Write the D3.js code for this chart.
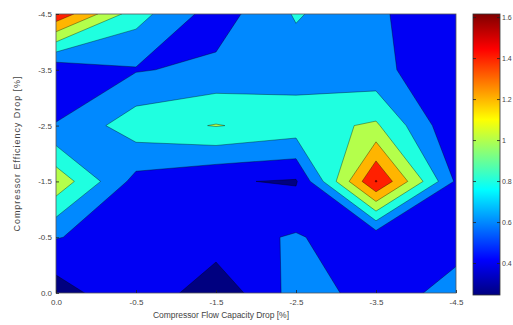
<!DOCTYPE html>
<html>
<head>
<meta charset="utf-8">
<script src="https://cdn.jsdelivr.net/npm/d3@7"></script>
<style>
  html, body { margin: 0; padding: 0; background: #fff; overflow: hidden; }
  text { font-family: "Liberation Sans", Arial, sans-serif; fill: #333; }
</style>
</head>
<body>
<figure id="contour" style="margin:0"></figure>
<script>
// tick labels (grid columns / rows are evenly spaced)
const xLabels = ['0.0', '-0.5', '-1.5', '-2.5', '-3.5', '-4.5'];
const yLabels = ['0.0', '-0.5', '-1.5', '-2.5', '-3.5', '-4.5']; // bottom -> top

// grid values, one row per y label (bottom -> top), one value per x label
const row00 = [0.30, 0.58, 0.25, 0.68, 0.535, 0.645];
const row05 = [0.61, 0.50, 0.52, 0.62, 0.46, 0.55];
const row15 = [1.14, 0.53, 0.42, 0.38, 1.615, 0.57];
const row25 = [0.61, 0.915, 1.01, 0.92, 1.03, 0.42];
const row35 = [0.45, 0.585, 0.647, 0.70, 0.66, 0.43];
const row45 = [1.55, 0.88, 0.50, 0.82, 0.64, 0.41];
const zRows = [row00, row05, row15, row25, row35, row45];

const levels = [0.4, 0.6, 0.8, 1.0, 1.2, 1.4, 1.6];
const colorLimits = [0.244, 1.615];
const colorbarTicks = [0.4, 0.6, 0.8, 1.0, 1.2, 1.4, 1.6];

const xTitle = 'Compressor Flow Capacity Drop [%]';
const yTitle = 'Compressor Efficiency Drop [%]';

const W = 513, H = 325;
const plot = {left: 56, right: 456, top: 14, bottom: 293};
const bar = {left: 473, right: 500, top: 14, bottom: 295};

function jet(t) {
  const c = v => Math.max(0, Math.min(1, v));
  const r = c(1.5 - Math.abs(4 * t - 3));
  const g = c(1.5 - Math.abs(4 * t - 2));
  const b = c(1.5 - Math.abs(4 * t - 1));
  return d3.rgb(r * 255, g * 255, b * 255).formatHex();
}

const color = d3.scaleSequential(jet).domain(colorLimits);

const svg = d3.select('figure#contour')
  .append('svg')
  .attr('width', W)
  .attr('height', H);

const nx = xLabels.length, ny = yLabels.length;
const x = d3.scaleLinear().domain([0, nx - 1]).range([plot.left, plot.right]);
const y = d3.scaleLinear().domain([0, ny - 1]).range([plot.bottom, plot.top]);

// contour fills
svg.append('defs').append('clipPath')
  .attr('id', 'plot-clip')
  .append('rect')
  .attr('x', plot.left)
  .attr('y', plot.top)
  .attr('width', plot.right - plot.left)
  .attr('height', plot.bottom - plot.top);

const values = zRows.flat();
const thresholds = [colorLimits[0]].concat(levels);
const contours = d3.contours()
  .size([nx, ny])
  .thresholds(thresholds)(values);

// d3.contours puts sample i at i + 0.5
const proj = d3.geoTransform({
  point: function (px, py) {
    this.stream.point(x(px - 0.5), y(py - 0.5));
  }
});
const path = d3.geoPath(proj);

svg.append('g')
  .attr('clip-path', 'url(#plot-clip)')
  .selectAll('path')
  .data(contours)
  .enter()
  .append('path')
  .attr('d', path)
  .attr('fill', d => color(d.value))
  .attr('stroke', '#000')
  .attr('stroke-opacity', d => d.value === colorLimits[0] ? 0 : 0.6)
  .attr('stroke-width', 0.6)
  .attr('stroke-linejoin', 'round');

// axes frame
svg.append('rect')
  .attr('x', plot.left)
  .attr('y', plot.top)
  .attr('width', plot.right - plot.left)
  .attr('height', plot.bottom - plot.top)
  .attr('fill', 'none')
  .attr('stroke', '#555')
  .attr('stroke-width', 0.8);

const xAxis = svg.append('g')
  .attr('transform', 'translate(0,' + plot.bottom + ')')
  .call(d3.axisBottom(x).tickValues(d3.range(nx)).tickFormat(i => xLabels[i])
    .tickSizeInner(-3).tickSizeOuter(0).tickPadding(6));
const yAxis = svg.append('g')
  .attr('transform', 'translate(' + plot.left + ',0)')
  .call(d3.axisLeft(y).tickValues(d3.range(ny)).tickFormat(i => yLabels[i])
    .tickSizeInner(-3).tickSizeOuter(0).tickPadding(4));

[xAxis, yAxis].forEach(g => {
  g.select('.domain').remove();
  g.selectAll('line').attr('stroke', '#222').attr('stroke-width', 0.8);
  g.selectAll('text').attr('font-size', 8).style('fill', '#444');
});

svg.append('text')
  .attr('x', 221)
  .attr('y', 318)
  .attr('text-anchor', 'middle')
  .attr('font-size', 8.5)
  .attr('textLength', 136)
  .style('fill', '#444')
  .text(xTitle);

svg.append('text')
  .attr('transform', 'translate(20,154) rotate(-90)')
  .attr('text-anchor', 'middle')
  .attr('font-size', 9)
  .attr('textLength', 155)
  .style('fill', '#444')
  .text(yTitle);

// colorbar
const cb = d3.scaleLinear().domain(colorLimits).range([bar.bottom, bar.top]);
const grad = svg.select('defs').append('linearGradient')
  .attr('id', 'jet-grad')
  .attr('x1', 0).attr('y1', 1).attr('x2', 0).attr('y2', 0);
grad.selectAll('stop')
  .data(d3.range(0, 1.0001, 1 / 32))
  .enter()
  .append('stop')
  .attr('offset', d => d)
  .attr('stop-color', d => color(colorLimits[0] + d * (colorLimits[1] - colorLimits[0])));

svg.append('rect')
  .attr('x', bar.left)
  .attr('y', bar.top)
  .attr('width', bar.right - bar.left)
  .attr('height', bar.bottom - bar.top)
  .attr('fill', 'url(#jet-grad)')
  .attr('stroke', '#333')
  .attr('stroke-width', 0.8);

const cbAxis = svg.append('g')
  .attr('transform', 'translate(' + bar.right + ',0)')
  .call(d3.axisRight(cb).tickValues(colorbarTicks).tickFormat(d3.format('~g'))
    .tickSizeInner(-3).tickSizeOuter(0).tickPadding(2));
cbAxis.select('.domain').remove();
cbAxis.selectAll('line').attr('stroke', '#222').attr('stroke-width', 0.8);
cbAxis.selectAll('text').attr('font-size', 7).style('fill', '#444');

// ticks on the left side of the colorbar too
svg.append('g')
  .attr('transform', 'translate(' + bar.left + ',0)')
  .call(d3.axisLeft(cb).tickValues(colorbarTicks).tickFormat('')
    .tickSizeInner(-3).tickSizeOuter(0))
  .call(g => g.select('.domain').remove())
  .selectAll('line').attr('stroke', '#222').attr('stroke-width', 0.8);
</script>
</body>
</html>
